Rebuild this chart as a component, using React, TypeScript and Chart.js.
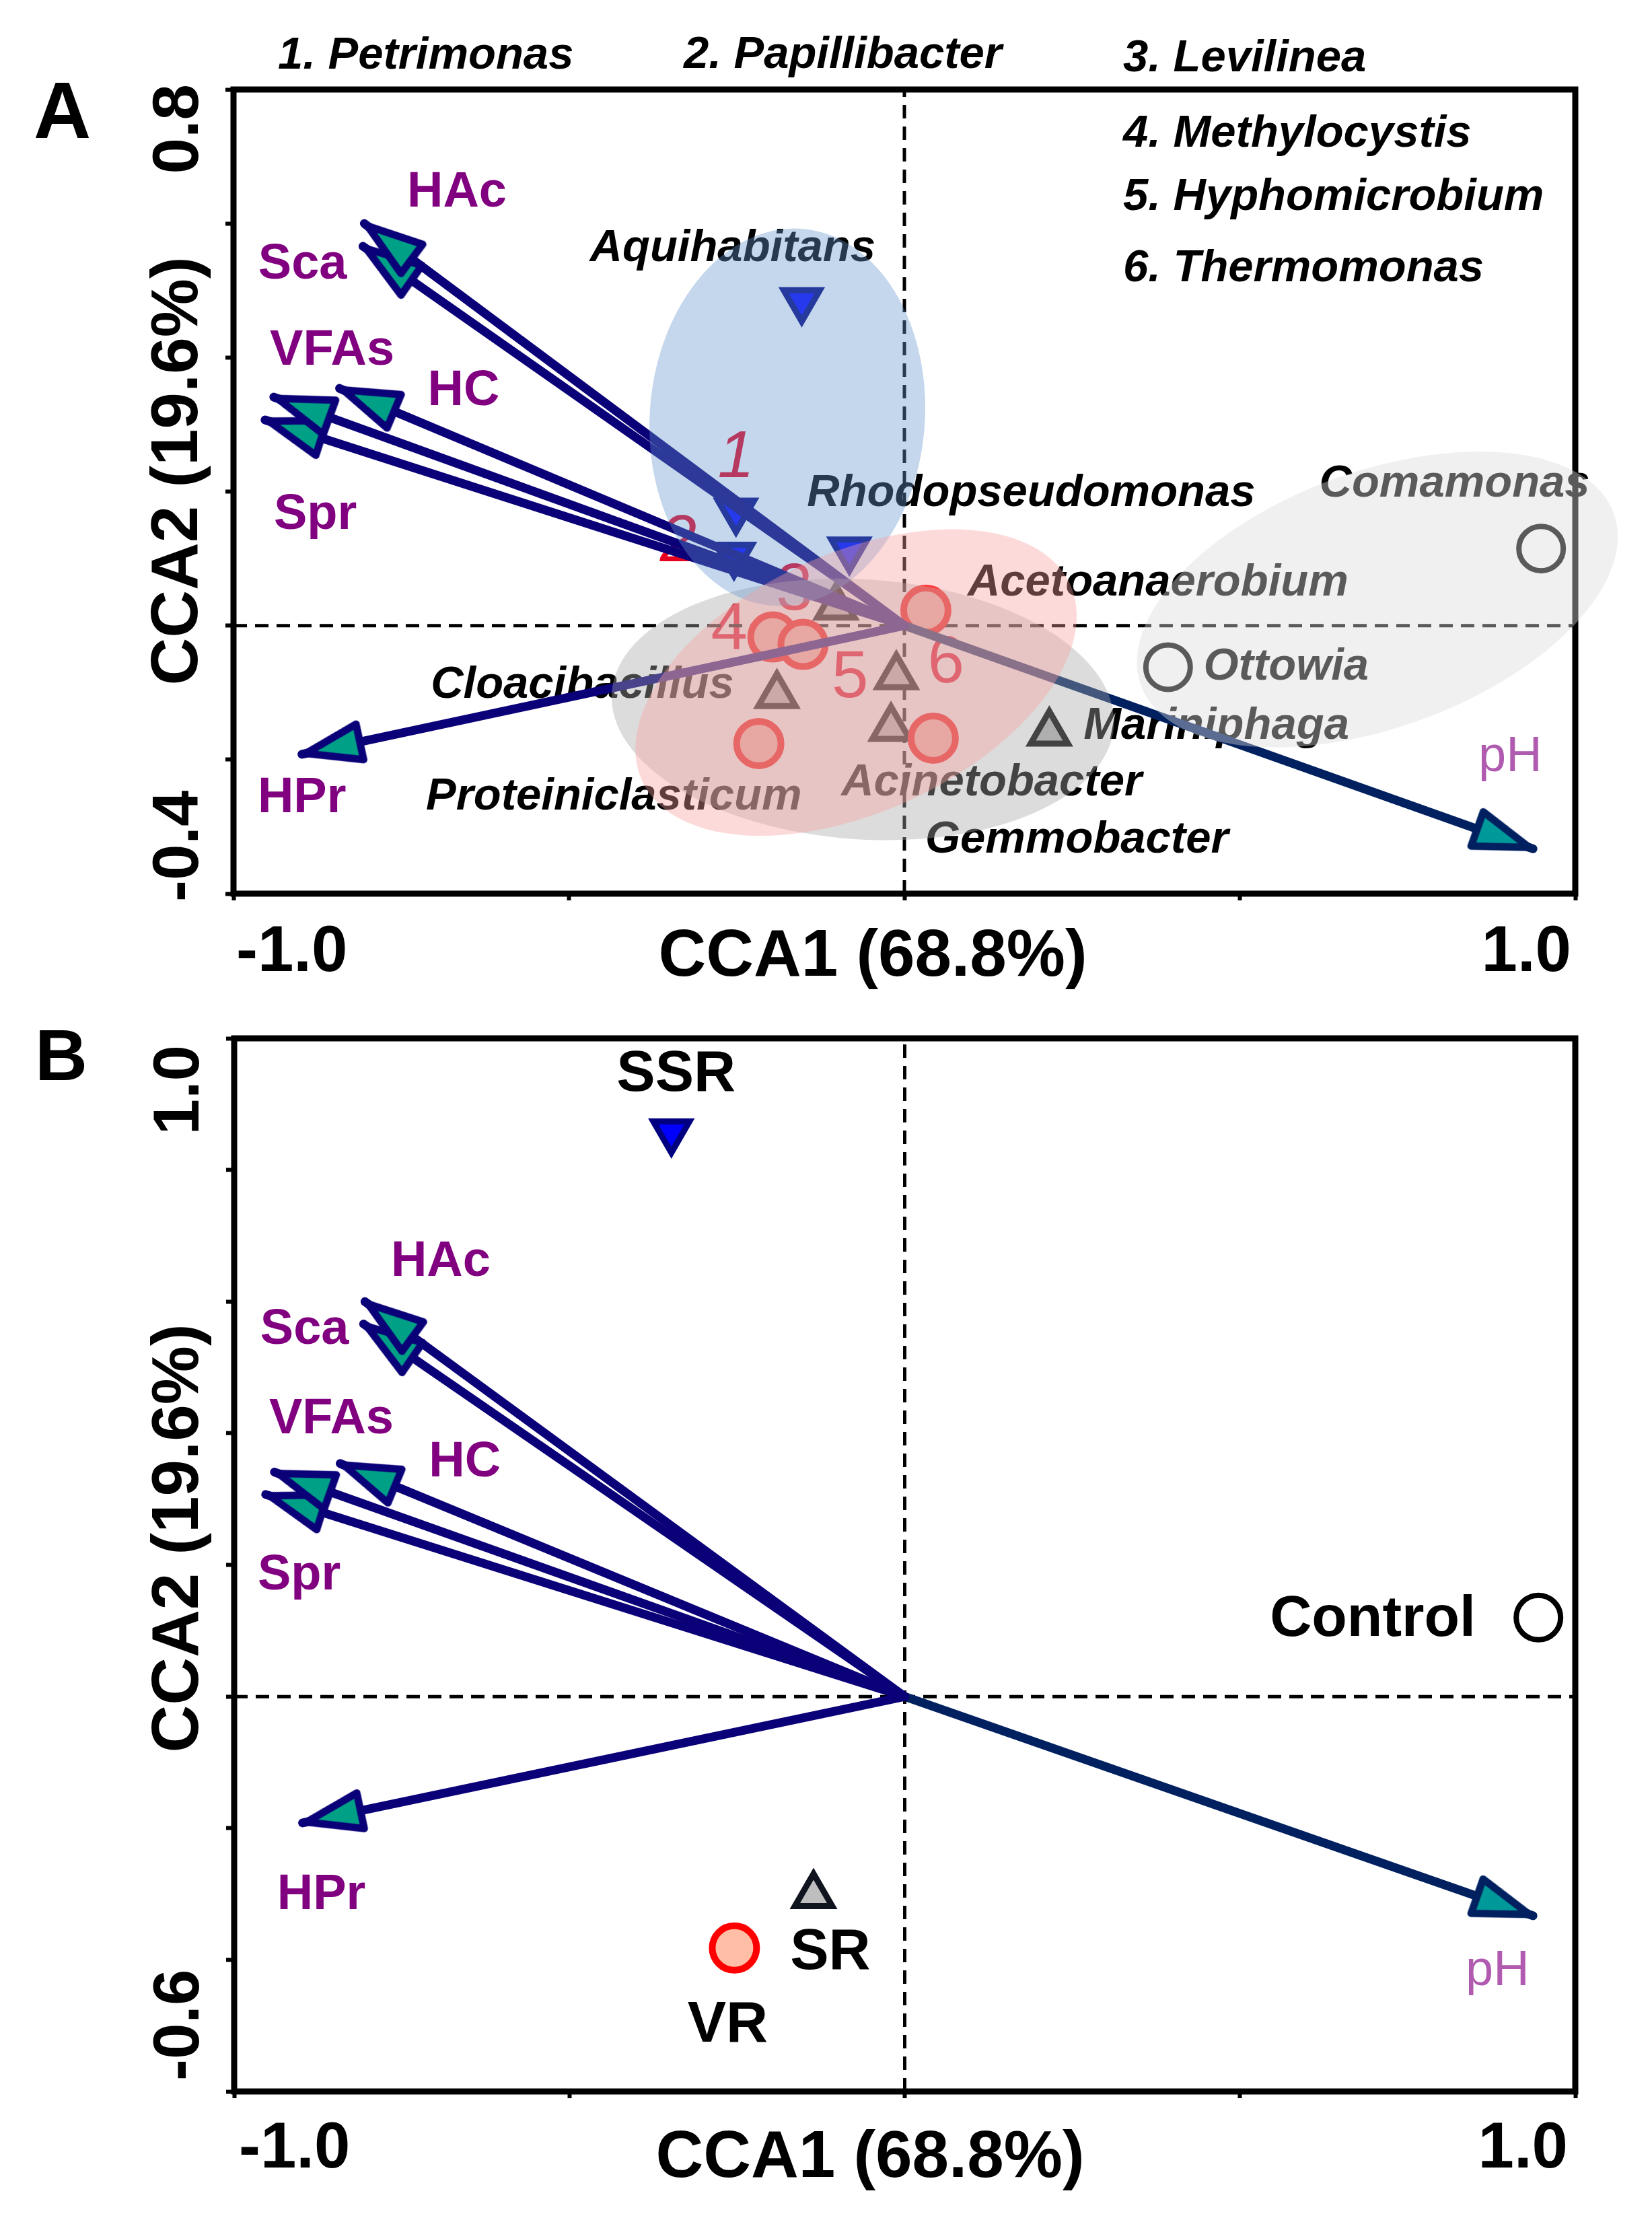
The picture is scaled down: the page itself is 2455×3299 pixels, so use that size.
import React, { useEffect, useRef } from 'react';
import { Chart, registerables } from 'chart.js';
Chart.register(...registerables);

const FONT = "'Liberation Sans', Arial, Helvetica, sans-serif";

// ---------- data ----------
// environmental vectors (biplot arrows, same in both panels)
const envNames = ['HAc', 'Sca', 'VFAs', 'HC', 'Spr', 'HPr', 'pH'];
const envX = [-0.805, -0.807, -0.94, -0.842, -0.953, -0.898, 0.937];
const envY = [0.6, 0.566, 0.341, 0.354, 0.307, -0.192, -0.333];

// Panel A: genera scores
const blueGenusX = [-0.153, -0.251, -0.254, -0.082];
const blueGenusY = [0.485, 0.171, 0.105, 0.113];
const redGenusX = [0.032, -0.196, -0.151, -0.217, 0.043];
const redGenusY = [0.023, -0.017, -0.028, -0.176, -0.168];
const grayGenusX = [-0.102, -0.19, -0.012, -0.02, 0.216];
const grayGenusY = [0.028, -0.104, -0.076, -0.153, -0.16];
const openGenusX = [0.949, 0.393];
const openGenusY = [0.115, -0.062];

// Panel B: sample scores
const sampleNames = ['SSR', 'VR', 'SR', 'Control'];
const sampleX = [-0.348, -0.254, -0.136, 0.945];
const sampleY = [0.858, -0.382, -0.302, 0.12];

// labels panel A
const genusLabels = ['Aquihabitans', 'Rhodopseudomonas', 'Comamonas', 'Acetoanaerobium', 'Ottowia', 'Cloacibacillus', 'Mariniphaga', 'Proteiniclasticum', 'Acinetobacter', 'Gemmobacter'];
const genusLabelX = [-0.256, 0.189, 0.82, 0.378, 0.569, -0.48, 0.465, -0.433, 0.13, 0.257];
const genusLabelY = [0.562, 0.197, 0.211, 0.063, -0.062, -0.089, -0.15, -0.256, -0.235, -0.32];
const numberLabels = ['1', '2', '3', '4', '5', '6'];
const numberLabelX = [-0.251, -0.337, -0.164, -0.261, -0.081, 0.062];
const numberLabelY = [0.249, 0.1235, 0.051, -0.007, -0.08, -0.058];
const legendLines = ['1. Petrimonas', '2. Papillibacter', '3. Levilinea', '4. Methylocystis', '5. Hyphomicrobium', '6. Thermomonas'];
const envLabelAX = [-0.667, -0.897, -0.853, -0.657, -0.878, -0.898, 0.903];
const envLabelAY = [0.646, 0.538, 0.41, 0.35, 0.165, -0.258, -0.197];
// labels panel B
const envLabelBX = [-0.692, -0.895, -0.855, -0.656, -0.903, -0.87, 0.884];
const envLabelBY = [0.66, 0.557, 0.421, 0.355, 0.184, -0.302, -0.418];
const sampleLabelX = [-0.341, -0.264, -0.111, 0.698];
const sampleLabelY = [0.945, -0.5, -0.39, 0.116];

// group ellipses (panel A)
const groupEllipses = [
  { cx: -0.062, cy: -0.125, rx: 0.375, ry: 0.194, rot: -3.8, color: 'rgba(168,168,168,0.40)' },
  { cx: -0.1745, cy: 0.311, rx: 0.205, ry: 0.282, rot: -4.5, color: 'rgba(100,150,205,0.38)' },
  { cx: -0.072, cy: -0.085, rx: 0.351, ry: 0.193, rot: 24.7, color: 'rgba(251,158,158,0.385)' },
  { cx: 0.705, cy: 0.039, rx: 0.375, ry: 0.191, rot: 20, color: 'rgba(219,219,219,0.41)' },
];

const NAVY = '#0a0078';
const PH_NAVY = '#002060';

function headCanvas(stroke: string, fill: string) {
  const c = document.createElement('canvas');
  c.width = 90;
  c.height = 240;
  const g = c.getContext('2d')!;
  const cx = 45, tipY = 126, len = 82, half = 27;
  g.beginPath();
  g.moveTo(cx, tipY);
  g.lineTo(cx - half, tipY + len);
  g.lineTo(cx + half, tipY + len);
  g.closePath();
  g.fillStyle = fill;
  g.fill();
  g.lineWidth = 11;
  g.lineJoin = 'round';
  g.strokeStyle = stroke;
  g.stroke();
  return c;
}

function txt(ctx: CanvasRenderingContext2D, s: string, x: number, y: number, font: string, color: string, align: CanvasTextAlign = 'center', baseline: CanvasTextBaseline = 'middle') {
  ctx.save();
  ctx.font = font;
  ctx.fillStyle = color;
  ctx.textAlign = align;
  ctx.textBaseline = baseline;
  ctx.fillText(s, x, y);
  ctx.restore();
}

function rtxt(ctx: CanvasRenderingContext2D, s: string, x: number, y: number, font: string, align: CanvasTextAlign) {
  ctx.save();
  ctx.translate(x, y);
  ctx.rotate(-Math.PI / 2);
  ctx.font = font;
  ctx.fillStyle = '#000';
  ctx.textAlign = align;
  ctx.textBaseline = 'alphabetic';
  ctx.fillText(s, 0, 0);
  ctx.restore();
}

function pts(xs: number[], ys: number[]) {
  return xs.map((x, i) => ({ x, y: ys[i] }));
}

function buildConfig(panel: 'A' | 'B'): any {
  const isA = panel === 'A';
  const ymin = isA ? -0.4 : -0.6;
  const ymax = isA ? 0.8 : 1.0;
  const headL = headCanvas(NAVY, '#00a086');
  const headP = headCanvas(PH_NAVY, '#009999');

  const arrows = envNames.map((n, i) => ({
    label: n,
    data: [{ x: 0, y: 0 }, { x: envX[i], y: envY[i] }],
    showLine: true,
    borderColor: i === 6 ? PH_NAVY : NAVY,
    borderWidth: 13,
    borderCapStyle: 'round',
    pointRadius: [0, 20],
    pointStyle: (c: any) => (c.dataIndex === 1 ? (i === 6 ? headP : headL) : 'circle'),
    pointRotation: (c: any) => {
      if (c.dataIndex !== 1) return 0;
      const xs = c.chart.scales.x, ys = c.chart.scales.y;
      const dx = xs.getPixelForValue(envX[i]) - xs.getPixelForValue(0);
      const dy = ys.getPixelForValue(envY[i]) - ys.getPixelForValue(0);
      return (Math.atan2(dx, -dy) * 180) / Math.PI;
    },
    clip: false,
    order: 0,
  }));

  const marker = (data: any[], style: string, rot: number, fill: string, border: string, r: number, bw: number) => ({
    data,
    pointStyle: style,
    pointRotation: rot,
    pointRadius: r,
    pointBorderWidth: bw,
    pointBackgroundColor: fill,
    backgroundColor: fill,
    pointBorderColor: border,
    borderColor: border,
    clip: false,
    order: 1,
  });

  let markers: any[];
  if (isA) {
    markers = [
      marker(pts(blueGenusX, blueGenusY), 'triangle', 180, '#0000ff', '#000080', 31, 9),
      marker(pts(redGenusX, redGenusY), 'circle', 0, '#ffb0a4', '#ff0000', 33, 10),
      marker(pts(grayGenusX, grayGenusY), 'triangle', 0, '#b4b4b4', '#000000', 32, 9),
      marker(pts(openGenusX, openGenusY), 'circle', 0, 'rgba(0,0,0,0)', '#000000', 33, 8),
    ];
  } else {
    markers = [
      marker([{ x: sampleX[0], y: sampleY[0] }], 'triangle', 180, '#0000ff', '#000080', 31, 9),
      marker([{ x: sampleX[1], y: sampleY[1] }], 'circle', 0, '#ffbea5', '#ff0000', 33, 10),
      marker([{ x: sampleX[2], y: sampleY[2] }], 'triangle', 0, '#bebebe', '#0f141e', 32, 9),
      marker([{ x: sampleX[3], y: sampleY[3] }], 'circle', 0, 'rgba(0,0,0,0)', '#000000', 33, 8),
    ];
  }

  const zeroLine = (data: any[]) => ({
    data,
    showLine: true,
    borderColor: '#000',
    borderWidth: 5,
    borderDash: [20, 12],
    pointRadius: 0,
    order: 2,
  });

  const datasets = [
    ...arrows,
    ...markers,
    zeroLine([{ x: 0, y: ymin }, { x: 0, y: ymax }]),
    zeroLine([{ x: -1, y: 0 }, { x: 1, y: 0 }]),
  ];

  const labelPlugin = {
    id: 'labels' + panel,
    beforeDatasetsDraw(chart: any) {
      const ctx = chart.ctx as CanvasRenderingContext2D;
      const xs = chart.scales.x, ys = chart.scales.y;
      const X = (v: number) => xs.getPixelForValue(v);
      const Y = (v: number) => ys.getPixelForValue(v);
      const lx = isA ? envLabelAX : envLabelBX;
      const ly = isA ? envLabelAY : envLabelBY;
      envNames.forEach((n, i) => {
        if (i === 6) txt(ctx, n, X(lx[i]), Y(ly[i]), `74px ${FONT}`, '#b05ab0');
        else txt(ctx, n, X(lx[i]), Y(ly[i]), `bold 74px ${FONT}`, '#800080');
      });
      if (isA) {
        genusLabels.forEach((n, i) => txt(ctx, n, X(genusLabelX[i]), Y(genusLabelY[i]), `italic bold 67px ${FONT}`, '#000'));
        numberLabels.forEach((n, i) => txt(ctx, n, X(numberLabelX[i]), Y(numberLabelY[i]), `${i < 2 ? 'italic ' : ''}98px ${FONT}`, '#e8001f'));
      } else {
        sampleNames.forEach((n, i) => txt(ctx, n, X(sampleLabelX[i]), Y(sampleLabelY[i]), `bold 86px ${FONT}`, '#000'));
      }
    },
    afterDatasetsDraw(chart: any) {
      const ctx = chart.ctx as CanvasRenderingContext2D;
      const a = chart.chartArea;
      ctx.save();
      ctx.strokeStyle = '#000';
      ctx.lineWidth = 9;
      ctx.lineJoin = 'miter';
      ctx.strokeRect(a.left, a.top, a.right - a.left, a.bottom - a.top);
      ctx.restore();
    },
    afterDraw(chart: any) {
      const ctx = chart.ctx as CanvasRenderingContext2D;
      const a = chart.chartArea;
      const xs = chart.scales.x, ys = chart.scales.y;
      if (isA) {
        const kx = xs.getPixelForValue(1) - xs.getPixelForValue(0);
        const ky = ys.getPixelForValue(0) - ys.getPixelForValue(1);
        groupEllipses.forEach((e) => {
          ctx.save();
          ctx.beginPath();
          ctx.ellipse(xs.getPixelForValue(e.cx), ys.getPixelForValue(e.cy), e.rx * kx, e.ry * ky, (-e.rot * Math.PI) / 180, 0, Math.PI * 2);
          ctx.fillStyle = e.color;
          ctx.fill();
          ctx.restore();
        });
        // legend of numbered genera
        const lf = `italic bold 67px ${FONT}`;
        txt(ctx, legendLines[0], 413, 102, lf, '#000', 'left', 'alphabetic');
        txt(ctx, legendLines[1], 1016, 101, lf, '#000', 'left', 'alphabetic');
        txt(ctx, legendLines[2], 1669, 106, lf, '#000', 'left', 'alphabetic');
        txt(ctx, legendLines[3], 1669, 218, lf, '#000', 'left', 'alphabetic');
        txt(ctx, legendLines[4], 1669, 312, lf, '#000', 'left', 'alphabetic');
        txt(ctx, legendLines[5], 1669, 418, lf, '#000', 'left', 'alphabetic');
      }
      const big = `bold 96px ${FONT}`;
      // panel letter
      txt(ctx, panel, isA ? 50 : 52, isA ? 205 : 105, `bold ${isA ? 118 : 108}px ${FONT}`, '#000', 'left', 'alphabetic');
      // axis titles
      txt(ctx, 'CCA1 (68.8%)', isA ? 1297 : 1293, a.bottom + (isA ? 122 : 127), `bold 98px ${FONT}`, '#000', 'center', 'alphabetic');
      rtxt(ctx, 'CCA2 (19.6%)', a.left - 54, isA ? 700 : 786, `bold 98px ${FONT}`, 'center');
      // tick labels
      rtxt(ctx, isA ? '0.8' : '1.0', a.left - 53, a.top + (isA ? -8 : 10), big, 'right');
      rtxt(ctx, isA ? '-0.4' : '-0.6', a.left - 53, a.bottom + (isA ? 12 : -16), big, 'left');
      txt(ctx, '-1.0', a.left + (isA ? 4 : 7), a.bottom + (isA ? 115 : 113), big, '#000', 'left', 'alphabetic');
      txt(ctx, '1.0', a.right - (isA ? 6 : 11), a.bottom + (isA ? 115 : 113), big, '#000', 'right', 'alphabetic');
    },
  };

  return {
    type: 'scatter',
    data: { datasets },
    options: {
      animation: false,
      responsive: false,
      devicePixelRatio: 1,
      events: [],
      layout: {
        padding: isA
          ? { left: 335, right: 114, top: 133, bottom: 162 }
          : { left: 336, right: 114, top: 20, bottom: 181 },
      },
      plugins: { legend: { display: false }, tooltip: { enabled: false } },
      scales: {
        x: {
          type: 'linear',
          min: -1,
          max: 1,
          ticks: { display: false, stepSize: 0.5 },
          grid: { display: true, drawOnChartArea: false, drawTicks: true, tickLength: 10, tickWidth: 6, tickColor: '#000' },
          border: { display: false },
          afterFit: (s: any) => { s.height = 10; },
        },
        y: {
          type: 'linear',
          min: ymin,
          max: ymax,
          ticks: { display: false, stepSize: 0.2 },
          grid: { display: true, drawOnChartArea: false, drawTicks: true, tickLength: 12, tickWidth: 6, tickColor: '#000' },
          border: { display: false },
          afterFit: (s: any) => { s.width = 12; },
        },
      },
    },
    plugins: [labelPlugin],
  };
}

export default function App() {
  const refA = useRef<HTMLCanvasElement>(null);
  const refB = useRef<HTMLCanvasElement>(null);
  useEffect(() => {
    const a = new Chart(refA.current!, buildConfig('A'));
    const b = new Chart(refB.current!, buildConfig('B'));
    return () => {
      a.destroy();
      b.destroy();
    };
  }, []);
  return (
    <div style={{ position: 'absolute', left: 0, top: 0, width: 2455, height: 3299, background: '#fff' }}>
      <canvas ref={refA} width={2455} height={1500} style={{ position: 'absolute', left: 0, top: 0, width: 2455, height: 1500 }} />
      <canvas ref={refB} width={2455} height={1799} style={{ position: 'absolute', left: 0, top: 1500, width: 2455, height: 1799 }} />
    </div>
  );
}
